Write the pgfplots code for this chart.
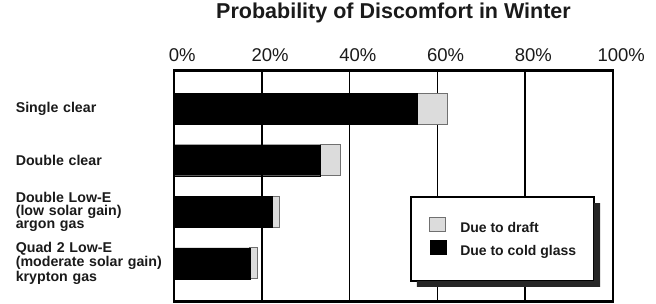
\documentclass[border=0pt]{standalone}
\usepackage{fontspec}
\setmainfont{Liberation Sans}
\usepackage{pgfplots}
\pgfplotsset{compat=1.18}
\definecolor{draftgray}{HTML}{DCDCDC}
\definecolor{edgegray}{HTML}{707070}
\definecolor{txt}{HTML}{1A1A1A}
\begin{document}
\begin{tikzpicture}
\begin{axis}[name=ax,
  scale only axis, width=439pt, height=232pt,
  xbar stacked, bar width=31pt,
  xmin=0, xmax=100, ymin=-0.75, ymax=3.75, y dir=reverse,
  ytick={0,1,2,3},
  yticklabels={Single clear, Double clear, {Double Low-E\\(low solar gain)\\argon gas}, {Quad 2 Low-E\\(moderate solar gain)\\krypton gas}},
  yticklabel style={align=left, text width=158pt, anchor=east, inner sep=0pt, text=txt, font=\fontsize{14.2}{13}\selectfont\bfseries},
  xtick={0,20,40,60,80,100},
  xticklabels={0\rlap{\%},20\rlap{\%},40\rlap{\%},60\rlap{\%},80\rlap{\%},100\rlap{\%}},
  xticklabel pos=upper,
  xticklabel style={anchor=base, yshift=8pt, text=txt, font=\fontsize{18.5}{18.5}\selectfont},
  major tick length=0pt,
  xmajorgrids, grid style={black, line width=1.5pt},
  axis line style={line width=1.5pt},
  title={Probability of Discomfort in Winter},
  title style={at={(axis description cs:0.5,1)}, anchor=base, yshift=45pt, text=txt, font=\fontsize{21.5}{21.5}\selectfont\bfseries},
  reverse legend,
  legend style={at={(axis description cs:0.581,0.368)}, anchor=north west, draw=none, fill=none,
    inner sep=0pt, row sep=6pt, column sep=14pt,
    nodes={inner sep=0pt, text height=10pt, text depth=2pt},
    legend cell align=left, text=txt, font=\fontsize{14}{14}\selectfont\bfseries},
]
\addplot[fill=black, draw=black, line width=0.1pt,
  legend image code/.code={\draw[fill=black, draw=black, line width=0.5pt] (0pt,-3pt) rectangle (16pt,11pt);}]
  coordinates {(55.3,0) (33.3,1) (22.3,2) (17.3,3)};
\addlegendentry{Due to cold glass}
\addplot[fill=draftgray, draw=edgegray, line width=1pt,
  legend image code/.code={\draw[fill=draftgray, draw=edgegray, line width=1pt] (0pt,-3pt) rectangle (16pt,11pt);}]
  coordinates {(6.9,0) (4.7,1) (1.7,2) (1.7,3)};
\addlegendentry{Due to draft}
\draw[line width=4pt] (axis description cs:0,1) -- (axis description cs:1,1);
\draw[line width=3pt] (axis description cs:0,0) -- (axis description cs:1,0);
% legend frame with L-shaped shadow
\fill[black!85] (axis description cs:0.5535,0.0905) -- (axis description cs:0.9567,0.0905)
  -- (axis description cs:0.9567,0.4267) -- (axis description cs:0.9704,0.4267)
  -- (axis description cs:0.9704,0.0647) -- (axis description cs:0.5535,0.0647) -- cycle;
\filldraw[fill=white, draw=black, line width=1.2pt] (axis description cs:0.5399,0.4526) rectangle (axis description cs:0.9567,0.0905);
\end{axis}
\pgfresetboundingbox
\path (ax.south west) ++(-174pt,-2pt) rectangle ++(656pt,304pt);
\end{tikzpicture}
\end{document}
